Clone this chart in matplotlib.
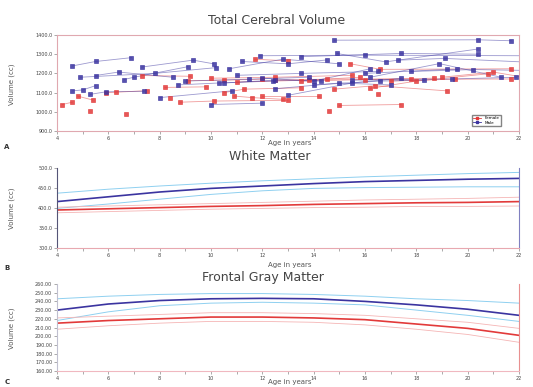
import matplotlib
matplotlib.use("Agg")
import matplotlib.pyplot as plt

# ---------------- data ----------------
# Total cerebral volume: longitudinal scans (age, volume) per subject
male_ages = [
    [4.6, 5.5, 6.9], [4.6, 5.0, 5.5], [5.5, 6.4, 8.5], [6.6, 7.0, 9.1],
    [5.3, 5.9, 7.4], [7.3, 9.3, 10.1], [8.0, 10.8], [10.0, 12.0],
    [14.8, 20.4, 21.7], [11.9, 16.0, 22.2], [13.5, 17.4, 20.4], [14.9, 16.8, 20.4],
    [11.2, 13.0, 14.5], [10.7, 12.8, 15.0], [9.0, 11.5, 13.8], [10.5, 12.5, 14.3],
    [12.0, 14.0, 16.2], [13.0, 15.5, 17.4], [16.2, 18.9, 21.3], [17.3, 19.1, 22.1],
    [16.0, 19.2, 19.6], [15.5, 19.4, 21.9], [11.0, 13.5, 16.5], [8.7, 10.3, 12.4],
    [14.0, 16.6, 18.3], [12.5, 15.0, 17.0], [17.8, 20.2, 22.5], [4.9, 7.8, 10.2],
]
male_vols = [
    [1239, 1262, 1282], [1109, 1114, 1136], [1189, 1207, 1180], [1168, 1180, 1235],
    [1091, 1104, 1107], [1233, 1269, 1250], [1074, 1109], [1038, 1045],
    [1373, 1375, 1370], [1292, 1295, 1292], [1287, 1304, 1300], [1304, 1260, 1327],
    [1262, 1250, 1270], [1224, 1274, 1250], [1160, 1170, 1180], [1150, 1165, 1160],
    [1175, 1160, 1224], [1086, 1150, 1175], [1180, 1251, 1180], [1269, 1278, 1260],
    [1200, 1221, 1221], [1165, 1171, 1180], [1190, 1200, 1210], [1140, 1150, 1160],
    [1140, 1160, 1165], [1120, 1150, 1140], [1210, 1220, 1215], [1180, 1200, 1230],
]
female_ages = [
    [4.2, 4.6], [4.8, 5.4], [5.3], [6.7], [5.9, 6.3, 7.5], [7.3, 9.2],
    [11.7, 13.0], [8.2, 9.8], [8.4], [8.8, 10.1, 13.0], [9.1, 10.5, 12.0],
    [10.5, 11.3, 13.5], [10.9, 11.6, 12.8], [12.0, 14.2], [14.6], [15.0, 17.4],
    [14.8, 16.4, 19.2], [15.4, 16.6, 21.7], [12.5, 14.5, 17.8], [13.5, 16.0, 18.7],
    [16.2, 18.0, 20.8], [17.0, 19.5, 21.7], [16.5], [11.0, 13.8, 15.8],
    [19.0, 21.0, 22.4], [10.0, 12.5, 15.5],
]
female_vols = [
    [1038, 1050], [1082, 1061], [1006], [990], [1100, 1102, 1110], [1189, 1185],
    [1274, 1265], [1127, 1130], [1074], [1050, 1056, 1060], [1162, 1165, 1170],
    [1100, 1118, 1125], [1082, 1074, 1065], [1082, 1082], [1003], [1033, 1038],
    [1118, 1136, 1109], [1251, 1221, 1224], [1165, 1170, 1171], [1160, 1168, 1175],
    [1122, 1160, 1198], [1160, 1170, 1171], [1091], [1155, 1165, 1180],
    [1180, 1207, 1175], [1175, 1180, 1190],
]

# fitted curves (age grid)
fit_ages = [4, 6, 8, 10, 12, 14, 16, 18, 20, 22]
wm_male = [416, 428, 440, 449, 455, 461, 466, 469, 472, 474]
wm_male_hi = [437, 447, 455, 462, 468, 473, 478, 482, 486, 489]
wm_male_lo = [399, 410, 422, 434, 443, 449, 451, 452, 453, 453]
wm_female = [395, 398, 401, 404, 406, 409, 411, 413, 414, 416]
wm_female_hi = [402, 405, 408, 411, 414, 417, 420, 422, 424, 427]
wm_female_lo = [388, 391, 394, 397, 399, 401, 402, 404, 404, 405]

gm_male = [230, 237, 241, 243, 243.5, 243, 240, 236, 231, 224]
gm_male_hi = [243, 246, 248, 249, 249, 248, 246, 243, 241, 238]
gm_male_lo = [218, 228, 235, 238, 239, 238, 236, 230, 224, 217]
gm_female = [215, 218, 220, 222, 222, 221, 219, 214, 209, 201]
gm_female_hi = [221, 223, 225, 227, 227, 226, 224, 220, 216, 209]
gm_female_lo = [208, 212, 215, 217, 217, 216, 213, 208, 202, 193]

age_ticks = [4, 6, 8, 10, 12, 14, 16, 18, 20, 22]
tcv_ticks = [900, 1000, 1100, 1200, 1300, 1400]
wm_ticks = [300, 350, 400, 450, 500]
gm_ticks = [160, 170, 180, 190, 200, 210, 220, 230, 240, 250, 260]

BLUE = "#3b34a0"
RED = "#e23a3a"
CYAN = "#8fd0f0"
PINK = "#f5b5b5"

W, H = 533, 387
fig = plt.figure(figsize=(W / 100, H / 100), dpi=100)


def ax_at(x0, y0, x1, y1):
    return fig.add_axes([x0 / W, 1 - y1 / H, (x1 - x0) / W, (y1 - y0) / H])


def style(ax, ticks, fmt):
    ax.set_xlim(4, 22)
    ax.set_xticks(age_ticks)
    ax.set_xticks([5, 7, 9, 11, 13, 15, 17, 19, 21], minor=True)
    ax.set_xticklabels([str(a) for a in age_ticks], fontsize=3.5)
    ax.set_yticks(ticks)
    ax.set_yticklabels([fmt % t for t in ticks], fontsize=3.5)
    ax.set_ylim(ticks[0], ticks[-1])
    ax.tick_params(axis="both", which="both", length=2, width=0.5, pad=1.5, colors="#888888",
                   labelcolor="#444444")


# ---- A: Total cerebral volume ----
ax1 = ax_at(57, 35, 519, 131)
for a, v in zip(female_ages, female_vols):
    ax1.plot(a, v, color=RED, lw=0.6, alpha=0.5, zorder=2)
    ax1.plot(a, v, ls="none", marker="s", ms=2.2, mfc=RED, mec=RED, mew=0.5, alpha=0.85, zorder=3)
for a, v in zip(male_ages, male_vols):
    ax1.plot(a, v, color=BLUE, lw=0.6, alpha=0.5, zorder=2)
    ax1.plot(a, v, ls="none", marker="s", ms=2.2, mfc=BLUE, mec=BLUE, mew=0.5, alpha=0.85, zorder=3)
style(ax1, tcv_ticks, "%.1f")
for s in ax1.spines.values():
    s.set_color("#e0a8b0")
    s.set_linewidth(0.8)
ax1.plot([], [], color=RED, marker="s", ms=2, lw=0.6, label="Female")
ax1.plot([], [], color=BLUE, marker="s", ms=2, lw=0.6, label="Male")
ax1.legend(loc="lower right", fontsize=3, frameon=True, fancybox=False, edgecolor="#666666",
           handlelength=2, borderpad=0.3, labelspacing=0.1, bbox_to_anchor=(0.965, 0.03))

# ---- B: White matter ----
ax2 = ax_at(57, 168, 519, 248)
ax2.plot(fit_ages, wm_male_hi, color=CYAN, lw=0.7)
ax2.plot(fit_ages, wm_male_lo, color=CYAN, lw=0.7)
ax2.plot(fit_ages, wm_female_hi, color=PINK, lw=0.6)
ax2.plot(fit_ages, wm_female_lo, color=PINK, lw=0.6)
ax2.plot(fit_ages, wm_male, color=BLUE, lw=1.2)
ax2.plot(fit_ages, wm_female, color=RED, lw=1.2)
style(ax2, wm_ticks, "%.1f")
ax2.spines["top"].set_visible(False)
ax2.spines["left"].set_color("#555577")
ax2.spines["right"].set_color("#8080c0")
ax2.spines["bottom"].set_color("#e8a8b0")

# ---- C: Frontal gray matter ----
ax3 = ax_at(57, 284, 519, 371)
ax3.plot(fit_ages, gm_male_hi, color=CYAN, lw=0.7)
ax3.plot(fit_ages, gm_male_lo, color=CYAN, lw=0.7)
ax3.plot(fit_ages, gm_female_hi, color=PINK, lw=0.6)
ax3.plot(fit_ages, gm_female_lo, color=PINK, lw=0.6)
ax3.plot(fit_ages, gm_male, color=BLUE, lw=1.2)
ax3.plot(fit_ages, gm_female, color=RED, lw=1.2)
style(ax3, gm_ticks, "%.2f")
ax3.spines["top"].set_visible(False)
ax3.spines["left"].set_color("#c0c0d0")
ax3.spines["right"].set_color("#e89090")
ax3.spines["bottom"].set_color("#f0b8c0")


# ---- texts ----
def ftext(x, y, s, **kw):
    fig.text(x / W, 1 - y / H, s, ha="center", va="center", **kw)


ftext(277, 20, "Total Cerebral Volume", fontsize=9, color="#444444")
ftext(270, 156, "White Matter", fontsize=9, color="#444444")
ftext(263, 278, "Frontal Gray Matter", fontsize=9, color="#444444")
ftext(290, 143, "Age in years", fontsize=5, color="#555555")
ftext(290, 265, "Age in years", fontsize=5, color="#555555")
ftext(290, 382, "Age in years", fontsize=5, color="#555555")
ftext(12, 84, "Volume (cc)", fontsize=5, rotation=90, color="#555555")
ftext(12, 208, "Volume (cc)", fontsize=5, rotation=90, color="#555555")
ftext(12, 328, "Volume (cc)", fontsize=5, rotation=90, color="#555555")
ftext(7, 147, "A", fontsize=5, weight="bold", color="#333333")
ftext(7, 268, "B", fontsize=5, weight="bold", color="#333333")
ftext(7, 382, "C", fontsize=5, weight="bold", color="#333333")

fig.savefig("out.png", dpi=100)
